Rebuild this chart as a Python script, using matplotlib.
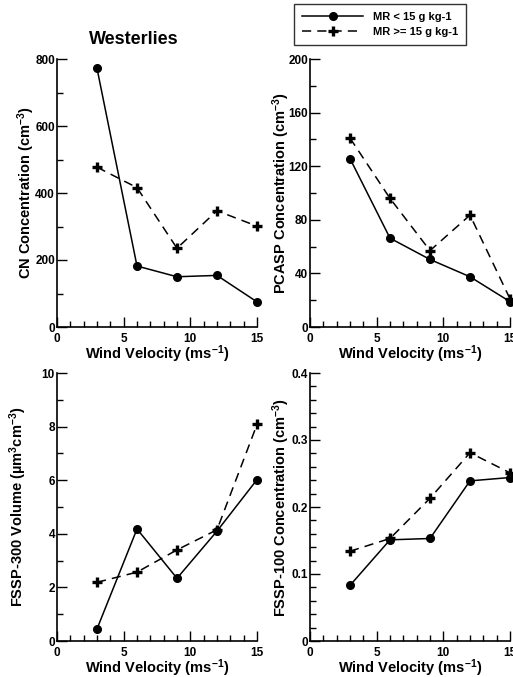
import matplotlib
matplotlib.use("Agg")
from matplotlib import pyplot as plt
from matplotlib.ticker import MultipleLocator, FuncFormatter

plt.rcParams['font.family'] = ['Liberation Sans', 'DejaVu Sans']
plt.rcParams['font.weight'] = 'bold'
plt.rcParams['mathtext.fontset'] = 'custom'
plt.rcParams['mathtext.rm'] = 'Liberation Sans:bold'
plt.rcParams['mathtext.it'] = 'Liberation Sans:bold'
plt.rcParams['mathtext.bf'] = 'Liberation Sans:bold'
plt.rcParams['mathtext.default'] = 'rm'

# wind velocity bins (m/s)
wind = [3, 6, 9, 12, 15]

# MR < 15 g/kg
cn_low = [772, 182, 150, 154, 75]
pcasp_low = [125.7, 66.3, 50.4, 37.5, 18.9]
fssp300_low = [0.45, 4.18, 2.34, 4.10, 6.02]
fssp100_low = [0.083, 0.151, 0.153, 0.239, 0.244]

# MR >= 15 g/kg
cn_high = [477, 416, 235, 347, 301]
pcasp_high = [141, 96, 57, 83.5, 21]
fssp300_high = [2.19, 2.57, 3.40, 4.15, 8.08]
fssp100_high = [0.134, 0.153, 0.213, 0.281, 0.251]

ylabels = ['CN Concentration (cm$^{-3}$)',
           'PCASP Concentration (cm$^{-3}$)',
           'FSSP-300 Volume (\u00b5m$^{3}$cm$^{-3}$)',
           'FSSP-100 Concentration (cm$^{-3}$)']
ylims = [(0, 800), (0, 200), (0, 10), (0, 0.4)]
ymajor = [200, 40, 2, 0.1]
yminor = [100, 20, 1, 0.02]
ylab_x = [-0.10, -0.09, -0.14, -0.09]

lows = [cn_low, pcasp_low, fssp300_low, fssp100_low]
highs = [cn_high, pcasp_high, fssp300_high, fssp100_high]

fig = plt.figure(figsize=(5.13, 6.77), dpi=100)
W, H = 513.0, 677.0
boxes = [(57, 327), (310, 327), (57, 641), (310, 641)]

for i in range(4):
    x0, yb = boxes[i]
    ax = fig.add_axes([x0 / W, 1 - yb / H, 200 / W, 268 / H])
    l1, = ax.plot(wind, lows[i], '-', color='black', lw=1.1, marker='o',
                  ms=5.5, clip_on=False, label='MR < 15 g kg-1')
    l2, = ax.plot(wind, highs[i], '--', color='black', lw=1.1, marker='+',
                  ms=7, mew=2.4, dashes=(6, 4), clip_on=False,
                  label='MR >= 15 g kg-1')
    ax.set_xlim(0, 15)
    ax.set_ylim(*ylims[i])
    ax.xaxis.set_major_locator(MultipleLocator(5))
    ax.xaxis.set_minor_locator(MultipleLocator(1))
    ax.yaxis.set_major_locator(MultipleLocator(ymajor[i]))
    ax.yaxis.set_minor_locator(MultipleLocator(yminor[i]))
    ax.yaxis.set_major_formatter(FuncFormatter(lambda v, p: '{:g}'.format(round(v, 6))))
    ax.spines['top'].set_visible(False)
    ax.spines['right'].set_visible(False)
    for s in ['left', 'bottom']:
        ax.spines[s].set_linewidth(1.2)
    ax.tick_params(which='major', direction='in', length=7, width=1, labelsize=8.5, pad=1.5)
    ax.tick_params(which='minor', direction='in', length=4, width=1)
    ax.tick_params(axis='x', pad=4)
    for lab in ax.get_xticklabels() + ax.get_yticklabels():
        lab.set_fontweight('bold')
    ax.set_xlabel('Wind Velocity (ms$^{-1}$)', fontsize=10.5, fontweight='bold', labelpad=-0.5)
    ax.set_ylabel(ylabels[i], fontsize=10.5, fontweight='bold')
    ax.yaxis.set_label_coords(ylab_x[i], 0.5)
    ax.patch.set_alpha(0)
    if i == 0:
        handles = [l1, l2]

fig.text(134 / W, 1 - 39 / H, 'Westerlies', fontsize=13, fontweight='bold',
         ha='center', va='center')

leg = fig.legend(handles=handles, loc='upper left',
                 bbox_to_anchor=(294 / W, 1 - 4 / H), fontsize=8.0,
                 handlelength=5.5, frameon=True, fancybox=False,
                 edgecolor='black', borderpad=0.75, labelspacing=0.42,
                 handletextpad=0.85, borderaxespad=0)
leg.get_frame().set_linewidth(1.0)
for t in leg.get_texts():
    t.set_fontweight('bold')

fig.savefig('out.png', dpi=100)
